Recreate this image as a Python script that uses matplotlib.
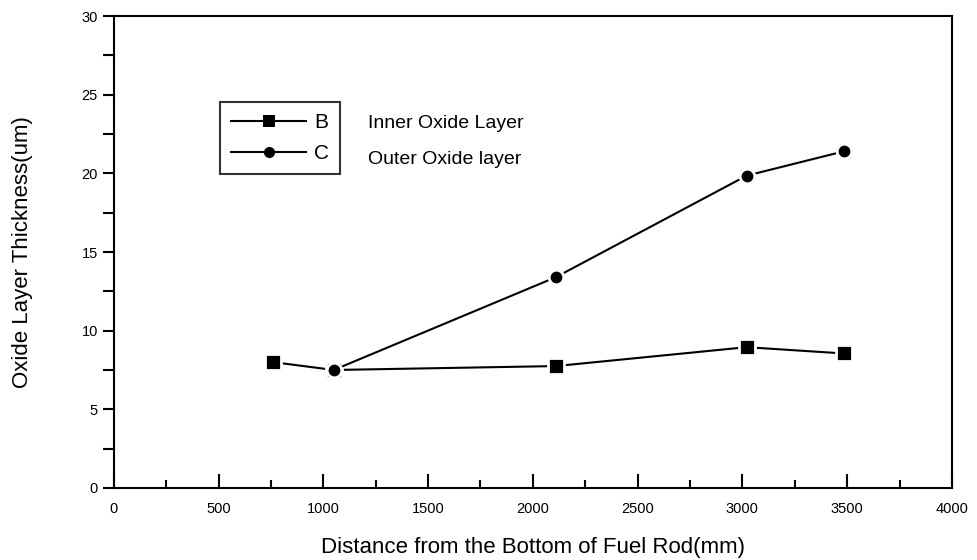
import matplotlib
matplotlib.use("Agg")
import matplotlib.pyplot as plt
from matplotlib.ticker import MultipleLocator

plt.rcParams['font.family'] = ['Liberation Sans', 'DejaVu Sans']

# Data
x_b = [760, 1050, 2110, 3020, 3485]
y_b = [8.0, 7.5, 7.75, 8.95, 8.55]
x_c = [1050, 2110, 3020, 3485]
y_c = [7.5, 13.4, 19.85, 21.4]
series_labels = ["B", "C"]
annot_labels = ["Inner Oxide Layer", "Outer Oxide layer"]
x_label = "Distance from the Bottom of Fuel Rod(mm)"
y_label = "Oxide Layer Thickness(um)"

fig = plt.figure(figsize=(9.78, 5.6), dpi=100)
ax = fig.add_axes([0.1163, 0.1286, 0.857, 0.8428])

lb, = ax.plot(x_b, y_b, color='black', lw=1.5, marker='s', ms=11,
              mfc='black', mec='white', mew=2.0, label=series_labels[0], zorder=3)
lc, = ax.plot(x_c, y_c, color='black', lw=1.5, marker='o', ms=10.5,
              mfc='black', mec='white', mew=2.0, label=series_labels[1], zorder=3)

ax.set_xlim(0, 4000)
ax.set_ylim(0, 30)
ax.xaxis.set_major_locator(MultipleLocator(500))
ax.xaxis.set_minor_locator(MultipleLocator(250))
ax.yaxis.set_major_locator(MultipleLocator(5))
ax.yaxis.set_minor_locator(MultipleLocator(2.5))

ax.tick_params(axis='x', which='both', direction='in', top=False, width=1.5, labelsize=10.5, pad=10)
ax.tick_params(axis='x', which='major', length=10)
ax.tick_params(axis='x', which='minor', length=6)
ax.tick_params(axis='y', which='both', direction='out', right=False, width=1.5, labelsize=10.5, length=8)
for s in ax.spines.values():
    s.set_linewidth(1.5)

ax.set_xlabel(x_label, fontsize=16)
ax.xaxis.label.set_va('center')
ax.xaxis.set_label_coords(0.5, -0.127)
ax.set_ylabel(y_label, fontsize=16)
ax.yaxis.label.set_va('center')
ax.yaxis.set_label_coords(-0.109, 0.5)

leg = ax.legend(handles=[lb, lc], loc='upper left', bbox_to_anchor=(0.1268, 0.8178),
                fontsize=15, frameon=True, fancybox=False, edgecolor='black',
                handlelength=3.6, handletextpad=0.35, borderpad=0.55, labelspacing=0.55,
                borderaxespad=0)
leg.get_frame().set_linewidth(1.5)
for h in leg.legend_handles:
    h.set_markeredgecolor('black')
    h.set_markeredgewidth(0)
    h.set_markersize(8)

ax.text(0.3035, 0.773, annot_labels[0], transform=ax.transAxes, fontsize=14, va='center', ha='left')
ax.text(0.3035, 0.695, annot_labels[1], transform=ax.transAxes, fontsize=14, va='center', ha='left')

fig.savefig("out.png", dpi=100)
